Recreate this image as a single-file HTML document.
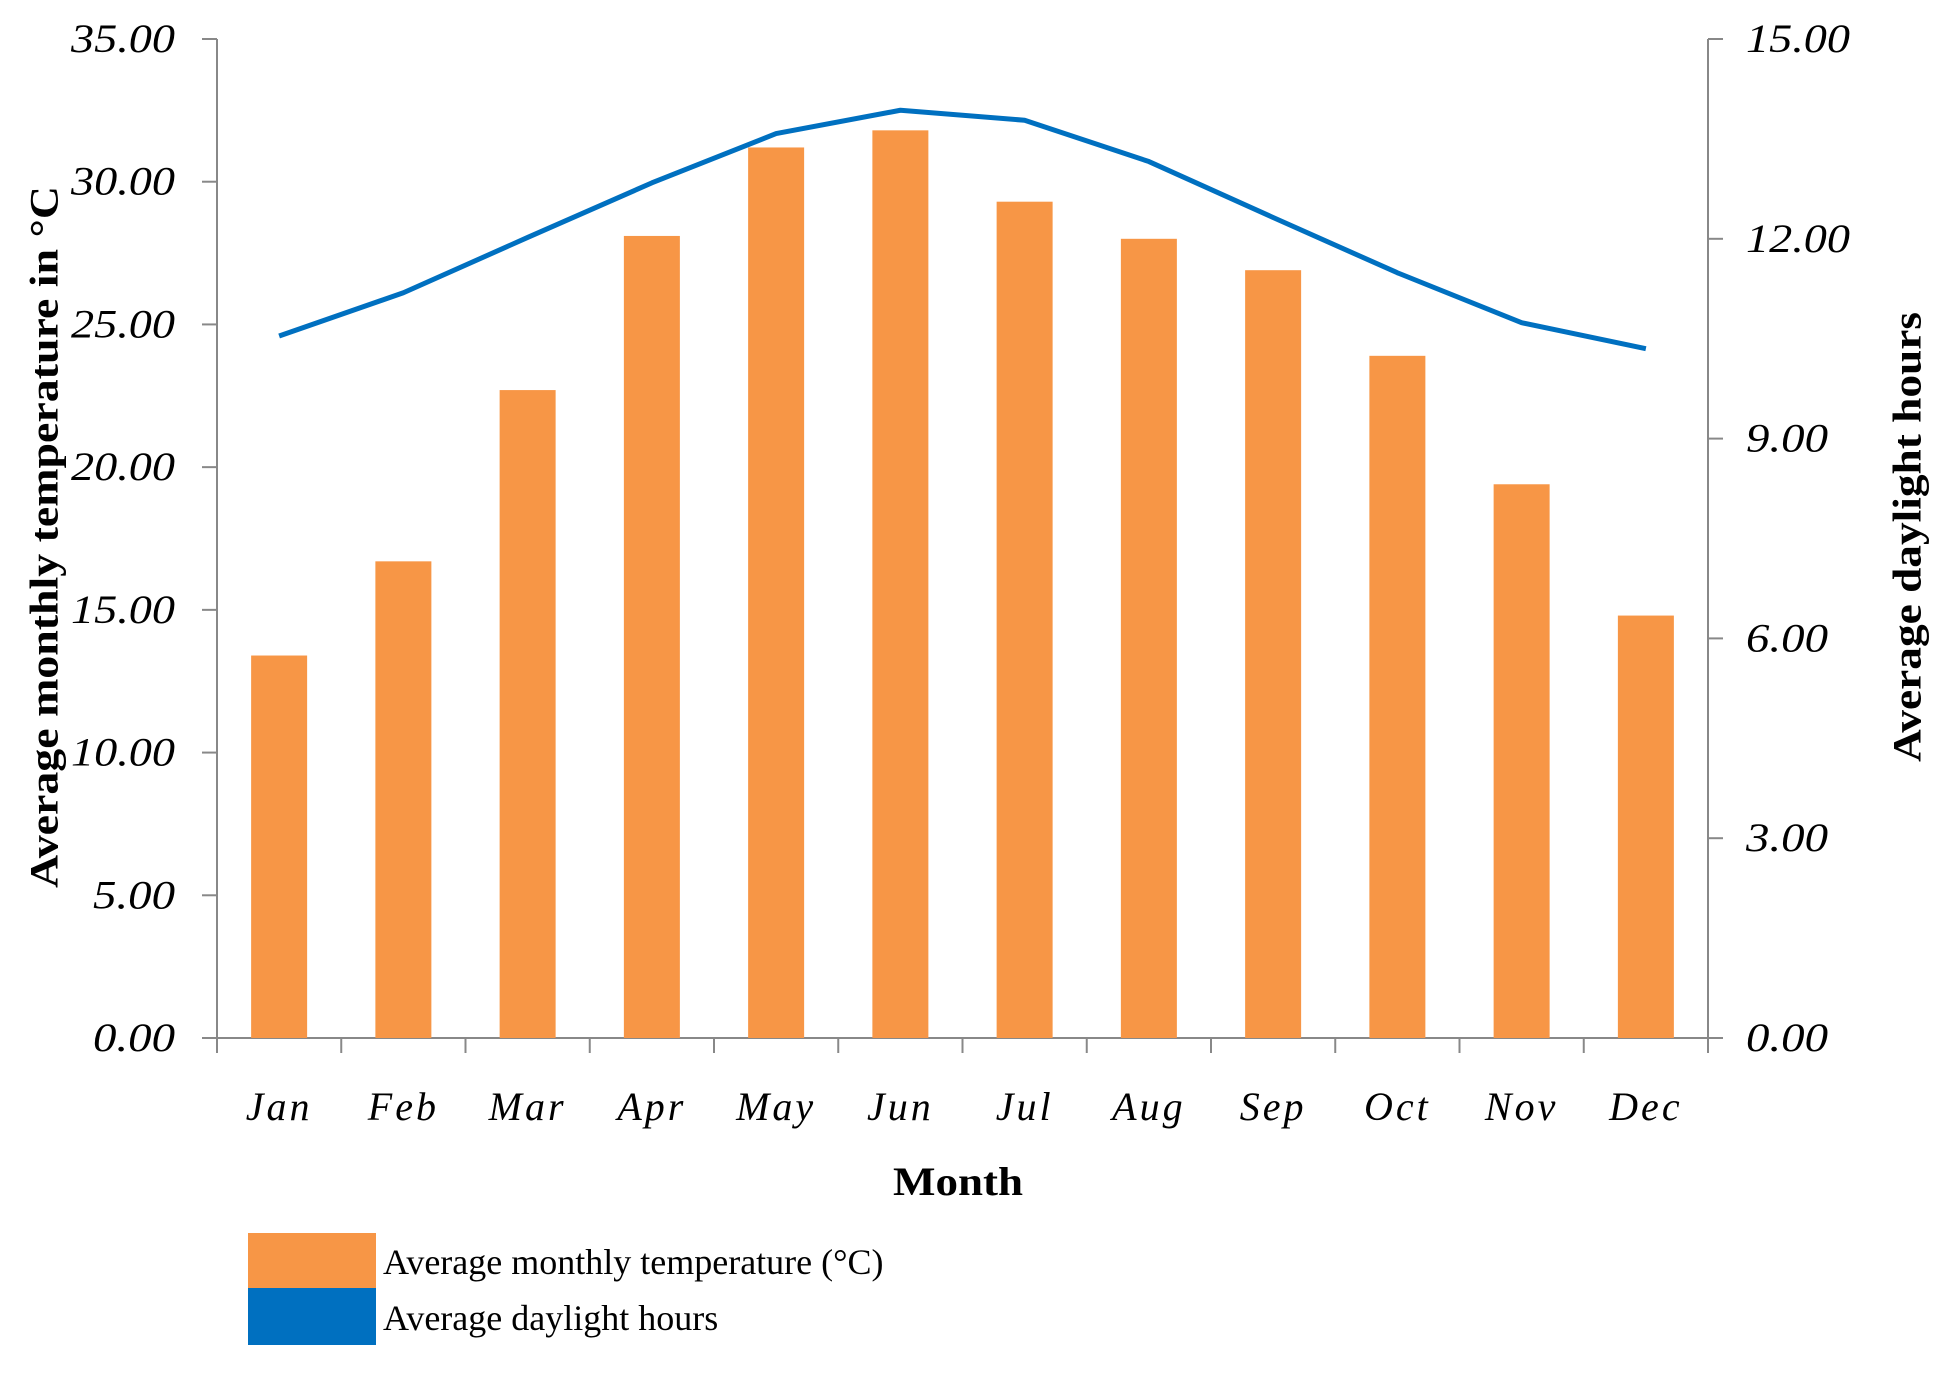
<!DOCTYPE html>
<html><head><meta charset="utf-8"><style>
html,body{margin:0;padding:0;background:#fff;}
svg{display:block;}
</style></head><body>
<svg id="chart" width="1958" height="1378" xmlns="http://www.w3.org/2000/svg">
<g id="axes"></g>
<g id="bars"></g>
<g id="line"></g>
<text x="44" y="537" transform="rotate(-90 44 537)" text-anchor="middle" dominant-baseline="central" font-family="Liberation Serif, serif" font-weight="bold" font-size="40" textLength="702" lengthAdjust="spacingAndGlyphs">Average monthly temperature in °C</text>
<text x="1907" y="537" transform="rotate(-90 1907 537)" text-anchor="middle" dominant-baseline="central" font-family="Liberation Serif, serif" font-weight="bold" font-size="40" textLength="450" lengthAdjust="spacingAndGlyphs">Average daylight  hours</text>
<text x="958" y="1195" text-anchor="middle" font-family="Liberation Serif, serif" font-weight="bold" font-size="40" textLength="130" lengthAdjust="spacingAndGlyphs">Month</text>
<g>
<rect x="248" y="1233" width="128" height="55" fill="#F79646"/>
<rect x="248" y="1288" width="128" height="57" fill="#0070C0"/>
<text x="383" y="1274" font-family="Liberation Serif, serif" font-size="36">Average monthly temperature (°C)</text>
<text x="383" y="1330" font-family="Liberation Serif, serif" font-size="36">Average daylight hours</text>
</g>
</svg>
<script>
const months = ["Jan","Feb","Mar","Apr","May","Jun","Jul","Aug","Sep","Oct","Nov","Dec"];
const temperature = [13.4,16.7,22.7,28.1,31.2,31.8,29.3,28.0,26.9,23.9,19.4,14.8];
const daylight = [10.54,11.19,12.02,12.84,13.58,13.93,13.78,13.16,12.32,11.49,10.74,10.35];
const leftTicks = [0,5,10,15,20,25,30,35];
const rightTicks = [0,3,6,9,12,15];

const NS="http://www.w3.org/2000/svg";
const X0=217, X1=1708, Y0=1038, Y1=39;
const band=(X1-X0)/months.length;
const xC=i=>X0+band*(i+0.5);
const yL=v=>Y0-(v/35)*(Y0-Y1);
const yR=v=>Y0-(v/15)*(Y0-Y1);
function mk(tag,attrs,parent){const e=document.createElementNS(NS,tag);for(const k in attrs)e.setAttribute(k,attrs[k]);parent.appendChild(e);return e;}
const axes=document.getElementById('axes'),bars=document.getElementById('bars'),line=document.getElementById('line');
const ax="#888";
let e;
e=mk('line',{x1:X0,y1:Y1,x2:X0,y2:Y0,stroke:ax,'stroke-width':2},axes);


e=mk('line',{x1:X1,y1:Y1,x2:X1,y2:Y0+15,stroke:ax,'stroke-width':2},axes);


e=mk('line',{x1:X0-15,y1:Y0,x2:X1,y2:Y0,stroke:ax,'stroke-width':2},axes);


leftTicks.forEach(v=>{
  const y=yL(v);
  mk('line',{x1:X0-15,y1:y,x2:X0,y2:y,stroke:ax,'stroke-width':2},axes);
  const s=v.toFixed(2);
  const t=mk('text',{x:175,y:y+13,'text-anchor':'end','font-family':'Liberation Serif, serif','font-style':'italic','font-size':40,textLength:(s.length===5?104:82),lengthAdjust:'spacingAndGlyphs'},axes);
  t.textContent=s;
  
  
});
rightTicks.forEach(v=>{
  const y=yR(v);
  mk('line',{x1:X1,y1:y,x2:X1+15,y2:y,stroke:ax,'stroke-width':2},axes);
  const s=v.toFixed(2);
  const t=mk('text',{x:1746,y:y+13,'text-anchor':'start','font-family':'Liberation Serif, serif','font-style':'italic','font-size':40,textLength:(s.length===5?104:82),lengthAdjust:'spacingAndGlyphs'},axes);
  t.textContent=s;
  
  
});
for(let i=0;i<=months.length;i++){
  const x=X0+band*i;
  mk('line',{x1:x,y1:Y0,x2:x,y2:Y0+15,stroke:ax,'stroke-width':2},axes);
}
months.forEach((m,i)=>{
  const t=mk('text',{x:xC(i),y:1120,'text-anchor':'middle','font-family':'Liberation Serif, serif','font-style':'italic','font-size':40,'letter-spacing':3},axes);
  t.textContent=m;
  
  
});
const bw=56;
temperature.forEach((v,i)=>{
  const r=mk('rect',{x:xC(i)-bw/2,y:yL(v),width:bw,height:Y0-yL(v),fill:'#F79646'},bars);
  
  
});
const pts=daylight.map((v,i)=>xC(i)+','+yR(v)).join(' ');
const pl=mk('polyline',{points:pts,fill:'none',stroke:'#0070C0','stroke-width':5,'stroke-linejoin':'round'},line);


</script>
</body></html>
